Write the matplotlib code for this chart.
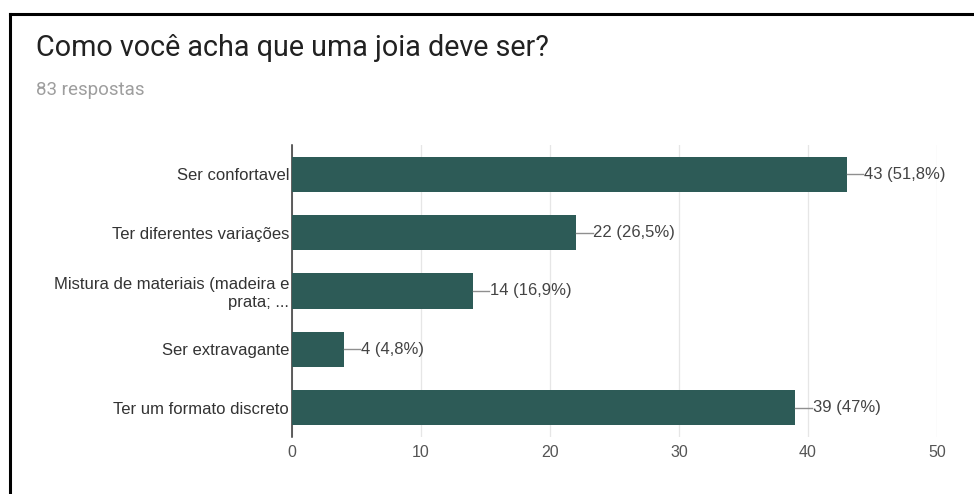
import matplotlib
matplotlib.use("Agg")
import matplotlib.pyplot as plt
from matplotlib.lines import Line2D

# Data
categories = [
    "Ser confortavel",
    "Ter diferentes variações",
    "Mistura de materiais (madeira e\nprata; ...",
    "Ser extravagante",
    "Ter um formato discreto",
]
counts = [43, 22, 14, 4, 39]
pct_labels = ["51,8%", "26,5%", "16,9%", "4,8%", "47%"]
xticks = [0, 10, 20, 30, 40, 50]

bar_color = "#2d5b57"
plt.rcParams['font.family'] = ['Liberation Sans', 'DejaVu Sans']

fig = plt.figure(figsize=(9.74, 4.94), dpi=100)

# black frame around the card (cut off at right and bottom)
fig.add_artist(Line2D([10/974, 10/974], [0, 1 - 14/494], color="black", lw=2.2,
                      transform=fig.transFigure))
fig.add_artist(Line2D([10/974, 1], [1 - 14/494, 1 - 14/494], color="black", lw=2.2,
                      transform=fig.transFigure))

fig.text(36/974, 1 - 48/494, "Como você acha que uma joia deve ser?", fontsize=20.7,
         family=['Roboto', 'DejaVu Sans'], color="#212121", va="center", ha="left")
fig.text(36/974, 1 - 90/494, "83 respostas", fontsize=13.5,
         family=['Roboto', 'DejaVu Sans'], color="#9e9e9e", va="center", ha="left")

ax = fig.add_axes([292/974, 1 - 437/494, 645/974, 292/494])
y = list(range(len(categories)))
ax.barh(y, counts, height=0.6, color=bar_color, zorder=3)

for i, (c, p) in enumerate(zip(counts, pct_labels)):
    ax.plot([c, c + 1.3], [i, i], color="#8f8f8f", lw=1.0, zorder=3)
    ax.text(c + 1.35, i, f"{c} ({p})", va="center", ha="left", fontsize=12,
            color="#444444", zorder=4)

ax.set_xlim(0, 50)
ax.set_ylim(len(categories) - 0.5, -0.5)
ax.set_xticks(xticks)
ax.set_yticks(y)
ax.set_yticklabels(categories, fontsize=12, color="#333333", ha="right",
                   multialignment="right")
ax.tick_params(axis="x", length=0, labelsize=11.5, labelcolor="#555555", pad=6)
ax.tick_params(axis="y", length=0, pad=2)
ax.grid(axis="x", color="#e6e6e6", lw=0.9, zorder=0)
for s in ["top", "right", "bottom"]:
    ax.spines[s].set_visible(False)
ax.spines["left"].set_color("#333333")
ax.spines["left"].set_linewidth(1.1)

fig.savefig("out.png", dpi=100)
